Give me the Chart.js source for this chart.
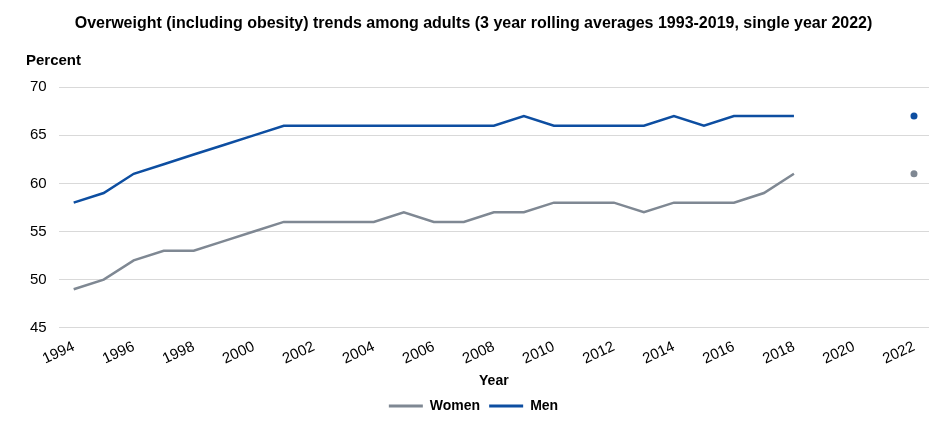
<!DOCTYPE html>
<html lang="en">
<head>
    <meta charset="UTF-8">
    <title>Overweight trends among adults</title>
    <style>
        body { margin: 0; background: #fff; }
        #wrap { width: 951px; height: 429px; }
    </style>
</head>
<body>
    <div id="wrap"><canvas id="lineChart"></canvas></div>
    <script src="https://cdn.jsdelivr.net/npm/chart.js@4.4.1/dist/chart.umd.min.js"></script>
    <script>
        const years = [
            "1994", "1995", "1996", "1997", "1998", "1999", "2000", "2001", "2002", "2003",
            "2004", "2005", "2006", "2007", "2008", "2009", "2010", "2011", "2012", "2013",
            "2014", "2015", "2016", "2017", "2018", "2019", "2020", "2021", "2022"
        ];
        // 2019-2021 have no data (gap), 2022 is a single year figure
        const women = [49, 50, 52, 53, 53, 54, 55, 56, 56, 56, 56, 57, 56, 56, 57, 57, 58, 58, 58, 57,
            58, 58, 58, 59, 61, null, null, null, 61];
        const men = [58, 59, 61, 62, 63, 64, 65, 66, 66, 66, 66, 66, 66, 66, 66, 67, 66, 66, 66, 66,
            67, 66, 67, 67, 67, null, null, null, 67];

        const font = "'Liberation Sans', Arial, sans-serif";
        Chart.defaults.font.family = font;
        Chart.defaults.color = "#000";

        const lastOnly = ctx => ctx.dataIndex === years.length - 1 ? 3.5 : 0;

        const percentLabel = {
            id: "percentLabel",
            afterDraw(chart) {
                const c = chart.ctx;
                c.save();
                c.font = "bold 15px " + font;
                c.fillStyle = "#000";
                c.textBaseline = "middle";
                c.fillText("Percent", 26, 61);
                c.restore();
            }
        };

        new Chart(document.getElementById("lineChart"), {
            type: "line",
            data: {
                labels: years,
                datasets: [
                    {
                        label: "Women",
                        data: women,
                        borderColor: "#7f8893",
                        backgroundColor: "#7f8893",
                        borderWidth: 2.5,
                        pointRadius: lastOnly,
                        pointBorderWidth: 0,
                        spanGaps: false,
                        tension: 0
                    },
                    {
                        label: "Men",
                        data: men,
                        borderColor: "#0d4ea1",
                        backgroundColor: "#0d4ea1",
                        borderWidth: 2.5,
                        pointRadius: lastOnly,
                        pointBorderWidth: 0,
                        spanGaps: false,
                        tension: 0
                    }
                ]
            },
            options: {
                responsive: true,
                maintainAspectRatio: false,
                animation: false,
                layout: { padding: { left: 18, right: 22, top: 0, bottom: 6 } },
                plugins: {
                    title: {
                        display: true,
                        text: "Overweight (including obesity) trends among adults (3 year rolling averages 1993-2019, single year 2022)",
                        font: { size: 16, weight: "bold" },
                        padding: { top: 14, bottom: 54 }
                    },
                    legend: {
                        position: "bottom",
                        labels: {
                            usePointStyle: true,
                            pointStyle: "line",
                            pointStyleWidth: 34,
                            font: { size: 14, weight: "bold" },
                            padding: 9,
                            generateLabels: function (chart) {
                                return chart.data.datasets.map((ds, i) => ({
                                    text: ds.label,
                                    fillStyle: ds.borderColor,
                                    strokeStyle: ds.borderColor,
                                    lineWidth: 3,
                                    pointStyle: "line",
                                    hidden: false,
                                    datasetIndex: i
                                }));
                            }
                        }
                    },
                    tooltip: { enabled: false }
                },
                scales: {
                    x: {
                        offset: true,
                        grid: { display: false },
                        border: { display: false },
                        ticks: {
                            autoSkip: false,
                            minRotation: 25,
                            maxRotation: 25,
                            font: { size: 15 },
                            padding: 2,
                            callback: function (v, i) {
                                const y = years[i];
                                return Number(y) % 2 === 0 ? y : "";
                            }
                        },
                        title: {
                            display: true,
                            text: "Year",
                            font: { size: 14, weight: "bold" },
                            padding: { top: 3, bottom: 0 }
                        }
                    },
                    y: {
                        min: 45,
                        max: 70,
                        border: { display: false },
                        grid: { color: "#d9d9d9", drawTicks: false },
                        ticks: { stepSize: 5, font: { size: 15 }, padding: 12 }
                    }
                }
            },
            plugins: [percentLabel]
        });
    </script>
</body>
</html>
